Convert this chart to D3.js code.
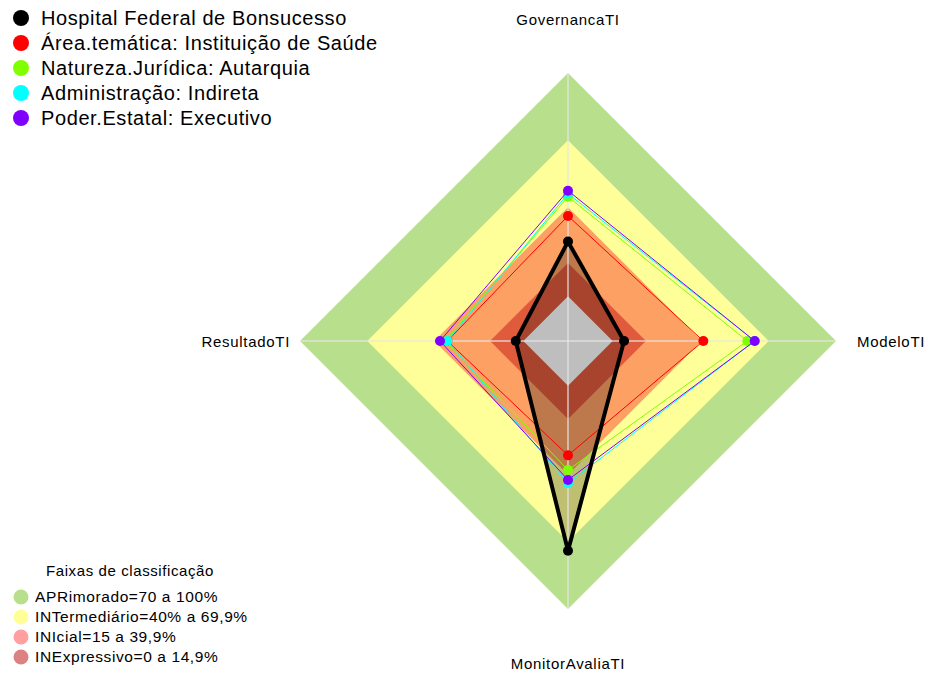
<!DOCTYPE html>
<html>
<head>
<meta charset="utf-8">
<script src="https://cdn.jsdelivr.net/npm/d3@7"></script>
<style>
  body { margin: 0; background: #fff; }
  text { font-family: "Liberation Sans", Arial, sans-serif; }
</style>
</head>
<body>
<svg id="chart" width="926" height="675"></svg>
<script>
"use strict";

// axes, clockwise from the top
var axes = ['GovernancaTI', 'ModeloTI', 'MonitorAvaliaTI', 'ResultadoTI'];

// series values (percent), same order as axes
var seriesNames = [
  'Hospital Federal de Bonsucesso',
  'Área.temática: Instituição de Saúde',
  'Natureza.Jurídica: Autarquia',
  'Administração: Indireta',
  'Poder.Estatal: Executivo'
];
var hospital = [24.5, 5.1, 73.9, 3.4];
var areaTematica = [36.0, 40.6, 31.2, 34.0];
var natureza = [44.6, 60.3, 37.8, 35.0];
var administracao = [46.0, 63.6, 43.7, 34.0];
var poder = [47.3, 63.6, 42.2, 37.3];
var seriesColors = ['#000000', '#ff0000', '#80ff00', '#00ffff', '#8000ff'];

// classification bands
var bandNames = ['APRimorado=70 a 100%', 'INTermediário=40% a 69,9%', 'INIcial=15 a 39,9%', 'INExpressivo=0 a 14,9%'];
var bandTops = [100, 69.9, 39.9, 14.9];
var bandFill = ['#b8e08c', '#ffff99', '#fca064', '#e05a3c'];
var bandLegend = ['#b8e08c', '#ffff99', '#ffa0a0', '#dc8282'];

var svg = d3.select('#chart');
var cx = 568, cy = 341, R = 268;

// fmsb style: one empty segment at the centre, so 0% sits at R/6
var r = d3.scaleLinear().domain([-20, 100]).range([0, R]);
var angle = d3.scaleLinear().domain([0, axes.length]).range([-Math.PI / 2, 1.5 * Math.PI]);

function pt(v, i) {
  return [cx + r(v) * Math.cos(angle(i)), cy + r(v) * Math.sin(angle(i))];
}
function ring(v) {
  return axes.map((a, i) => pt(v, i));
}
var line = d3.line().curve(d3.curveLinearClosed);

// bands, widest first
svg.selectAll('path.band')
  .data(bandTops)
  .enter()
  .append('path')
  .attr('class', 'band')
  .attr('d', d => line(ring(d)))
  .attr('fill', (d, i) => bandFill[i]);

// hospital polygon fill
svg.append('path')
  .attr('d', line(hospital.map(pt)))
  .attr('fill', 'rgba(0,0,0,0.25)');

// grey centre
svg.append('path')
  .attr('d', line(ring(0)))
  .attr('fill', '#bebebe');

// axis lines
svg.selectAll('line.axis')
  .data(axes)
  .enter()
  .append('line')
  .attr('class', 'axis')
  .attr('x1', cx).attr('y1', cy)
  .attr('x2', (d, i) => pt(100, i)[0])
  .attr('y2', (d, i) => pt(100, i)[1])
  .attr('stroke', '#e6e6e6')
  .attr('stroke-opacity', 0.6)
  .attr('stroke-width', 2);

// axis labels
var labelPos = [
  {dx: 0, dy: -48, anchor: 'middle'},
  {dx: 21, dy: 6, anchor: 'start'},
  {dx: 0, dy: 60, anchor: 'middle'},
  {dx: -10, dy: 6, anchor: 'end'}
];
svg.selectAll('text.axislabel')
  .data(axes)
  .enter()
  .append('text')
  .attr('class', 'axislabel')
  .attr('x', (d, i) => pt(100, i)[0] + labelPos[i].dx)
  .attr('y', (d, i) => pt(100, i)[1] + labelPos[i].dy)
  .attr('text-anchor', (d, i) => labelPos[i].anchor)
  .attr('font-size', 15)
  .attr('letter-spacing', 0.7)
  .text(d => d);

// series, hospital drawn last so it sits on top
var allSeries = [hospital, areaTematica, natureza, administracao, poder];
var drawOrder = [1, 2, 3, 4, 0];
drawOrder.forEach(function(k) {
  var vals = allSeries[k];
  svg.append('path')
    .attr('d', line(vals.map(pt)))
    .attr('fill', 'none')
    .attr('stroke', seriesColors[k])
    .attr('stroke-width', k == 0 ? 4 : 1)
    .attr('stroke-linejoin', 'round');
  svg.selectAll(null)
    .data(vals)
    .enter()
    .append('circle')
    .attr('cx', (d, i) => pt(d, i)[0])
    .attr('cy', (d, i) => pt(d, i)[1])
    .attr('r', 5)
    .attr('fill', seriesColors[k]);
});

// series legend
var leg = svg.append('g');
leg.selectAll('circle')
  .data(seriesNames)
  .enter()
  .append('circle')
  .attr('cx', 21)
  .attr('cy', (d, i) => 18 + i * 25)
  .attr('r', 8)
  .attr('fill', (d, i) => seriesColors[i]);
leg.selectAll('text')
  .data(seriesNames)
  .enter()
  .append('text')
  .attr('x', 41)
  .attr('y', (d, i) => 25 + i * 25)
  .attr('font-size', 20)
  .attr('letter-spacing', 0.6)
  .text(d => d);

// band legend
var bleg = svg.append('g');
bleg.append('text')
  .attr('x', 130).attr('y', 576)
  .attr('text-anchor', 'middle')
  .attr('font-size', 15)
  .attr('letter-spacing', 0.6)
  .text('Faixas de classificação');
bleg.selectAll('circle')
  .data(bandNames)
  .enter()
  .append('circle')
  .attr('cx', 21)
  .attr('cy', (d, i) => 597 + i * 20)
  .attr('r', 7.5)
  .attr('fill', (d, i) => bandLegend[i]);
bleg.selectAll('text.item')
  .data(bandNames)
  .enter()
  .append('text')
  .attr('class', 'item')
  .attr('x', 35)
  .attr('y', (d, i) => 602 + i * 20)
  .attr('font-size', 15.5)
  .attr('letter-spacing', 0.6)
  .text(d => d);
</script>
</body>
</html>
